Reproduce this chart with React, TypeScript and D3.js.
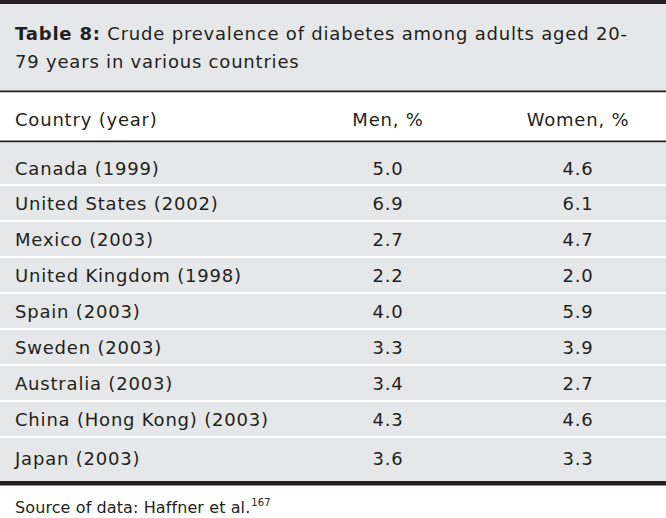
import React from "react";
import * as d3 from "d3";

const countries = [
  "Canada (1999)",
  "United States (2002)",
  "Mexico (2003)",
  "United Kingdom (1998)",
  "Spain (2003)",
  "Sweden (2003)",
  "Australia (2003)",
  "China (Hong Kong) (2003)",
  "Japan (2003)",
];
const men = [5.0, 6.9, 2.7, 2.2, 4.0, 3.3, 3.4, 4.3, 3.6];
const women = [4.6, 6.1, 4.7, 2.0, 5.9, 3.9, 2.7, 4.6, 3.3];
const columns = ["Country (year)", "Men, %", "Women, %"];

const W = 666;
const H = 518;
const FONT = "'DejaVu Sans', sans-serif";
const INK = "#231f20";
const GRAY = "#e6e7e8";
const LS = 0.8;

export default function App() {
  const y = d3.scaleBand<string>().domain(countries).range([149, 473]).padding(0);
  const colX = d3.scaleOrdinal<string, number>().domain(columns).range([15, 388, 578]);
  const fmt = d3.format(".1f");
  return (
    <svg width={W} height={H} style={{ position: "absolute", left: 0, top: 0, background: "#fff" }}>
      {/* title block */}
      <rect x={0} y={0} width={W} height={92} fill={GRAY} />
      <rect x={0} y={0} width={W} height={4} fill={INK} />
      <text x={15} y={40} fontFamily={FONT} fontSize={18} fill={INK} letterSpacing={LS}>
        <tspan fontWeight="bold">Table 8:</tspan>
        <tspan> Crude prevalence of diabetes among adults aged 20-</tspan>
      </text>
      <text x={15} y={68} fontFamily={FONT} fontSize={18} fill={INK} letterSpacing={LS}>
        79 years in various countries
      </text>
      <rect x={0} y={90.5} width={W} height={2} fill={INK} />
      {/* header */}
      <rect x={0} y={92.5} width={W} height={48} fill="#fff" />
      {columns.map((c, i) => (
        <text
          key={c}
          x={colX(c)}
          y={126}
          textAnchor={i === 0 ? "start" : "middle"}
          fontFamily={FONT}
          fontSize={18}
          fill={INK}
          letterSpacing={LS}
        >
          {c}
        </text>
      ))}
      <rect x={0} y={140.5} width={W} height={2} fill={INK} />
      {/* body */}
      <rect x={0} y={142.5} width={W} height={339} fill={GRAY} />
      {countries.slice(1).map((c) => (
        <rect key={"sep" + c} x={0} y={(y(c) as number) - 1} width={W} height={2} fill="#fff" />
      ))}
      {countries.map((c, i) => {
        const cy = (y(c) as number) + y.bandwidth() / 2 + (i === 0 ? 1 : i === countries.length - 1 ? 3 : 0) + 6.5;
        return (
          <g key={c}>
            <text x={colX(columns[0])} y={cy} fontFamily={FONT} fontSize={18} fill={INK} letterSpacing={LS}>
              {c}
            </text>
            <text x={colX(columns[1])} y={cy} textAnchor="middle" fontFamily={FONT} fontSize={18} fill={INK} letterSpacing={LS}>
              {fmt(men[i])}
            </text>
            <text x={colX(columns[2])} y={cy} textAnchor="middle" fontFamily={FONT} fontSize={18} fill={INK} letterSpacing={LS}>
              {fmt(women[i])}
            </text>
          </g>
        );
      })}
      <rect x={0} y={481} width={W} height={4.5} fill={INK} />
      {/* source */}
      <text x={15} y={513} fontFamily={FONT} fontSize={16} fill={INK} letterSpacing={0.1}>
        Source of data: Haffner et al.
        <tspan fontSize={10} dx={1} dy={-7}>167</tspan>
      </text>
    </svg>
  );
}
